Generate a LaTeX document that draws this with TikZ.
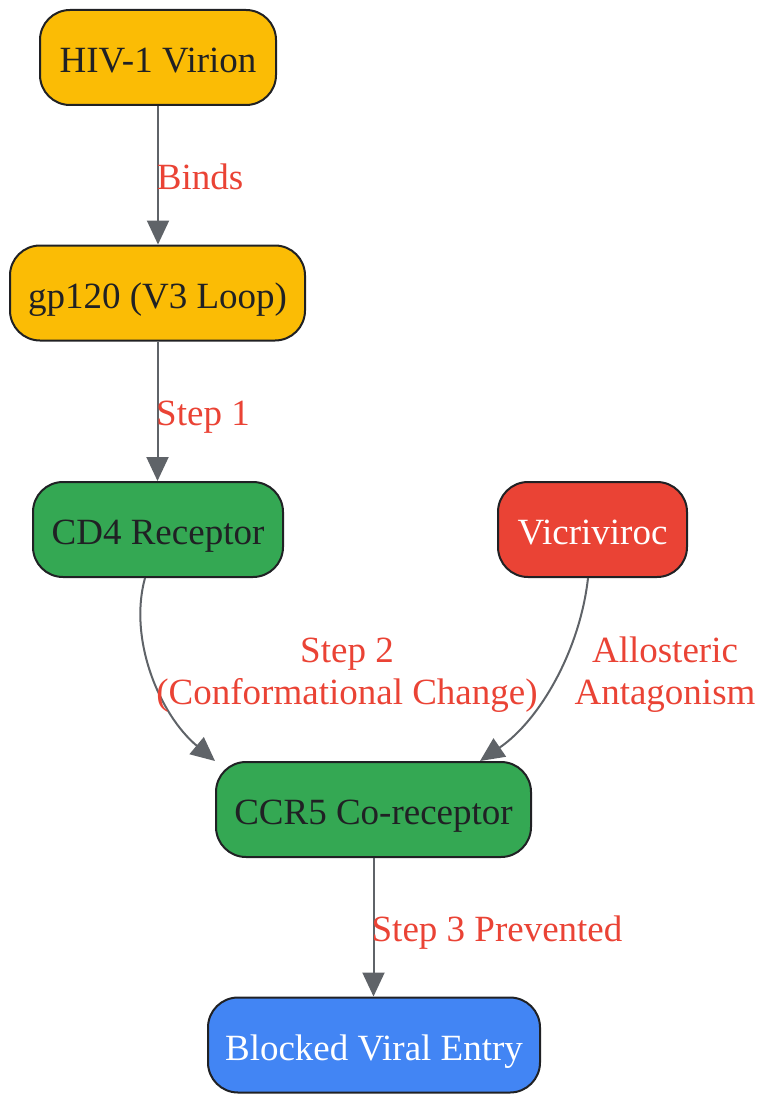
\documentclass[tikz,border=0pt]{standalone}
\usepackage{fontspec}
\setmainfont{Liberation Serif}
\usetikzlibrary{arrows.meta}
\definecolor{gyel}{HTML}{FBBC05}
\definecolor{ggrn}{HTML}{34A853}
\definecolor{gred}{HTML}{EA4335}
\definecolor{gblue}{HTML}{4285F4}
\definecolor{dark}{HTML}{202124}
\definecolor{edgec}{HTML}{5F6368}
\begin{document}
\begin{tikzpicture}[x=1pt,y=-1pt,
  box/.style={draw=dark, line width=2pt, rounded corners=30pt, minimum height=95pt,
    font=\fontsize{37}{42}\selectfont, text=dark, inner sep=0pt, text height=30pt, text depth=0pt},
  conn/.style={draw=edgec, line width=2pt, -{Triangle[length=24pt,width=22pt]}},
  lbl/.style={text=gred, font=\fontsize{37}{42}\selectfont, align=center, inner sep=0pt},
  lbls/.style={lbl, text height=30pt, text depth=0pt}]
\useasboundingbox (0,0) rectangle (758,1094);
\node[box, fill=gyel, minimum width=236pt] (v) at (158,57.5) {HIV-1 Virion};
\node[box, fill=gyel, minimum width=295pt] (g) at (157.5,293) {gp120 (V3 Loop)};
\node[box, fill=ggrn, minimum width=250pt] (c) at (158,529.5) {CD4 Receptor};
\node[box, fill=gred, minimum width=189pt, text=white] (d) at (592.5,529.5) {Vicriviroc};
\node[box, fill=ggrn, minimum width=315pt] (r) at (373.5,809.5) {CCR5 Co-receptor};
\node[box, fill=gblue, minimum width=332pt, text=white] (b) at (374,1045) {Blocked Viral Entry};

\draw[conn] (v.south) -- (v.south |- g.north);
\draw[conn] (g.south) -- (g.south |- c.north);
\draw[conn] ([xshift=-13pt]c.south) .. controls (128,640) and (160,715) .. (r.north west);
\draw[conn] ([xshift=-4.5pt]d.south) .. controls (580,650) and (540,720) .. ([xshift=106.5pt]r.north);
\draw[conn] (r.south) -- (r.south |- b.north);

\node[lbls] (l1) at (200,174.5) {Binds};
\node[lbls] (l2) at (203,410.5) {Step 1};
\node[lbl] (l3) at (347,675) {Step 2\\(Conformational Change)};
\node[lbl] (l4) at (665,675) {Allosteric\\Antagonism};
\node[lbls] (l5) at (497,926.5) {Step 3 Prevented};
\end{tikzpicture}
\end{document}
